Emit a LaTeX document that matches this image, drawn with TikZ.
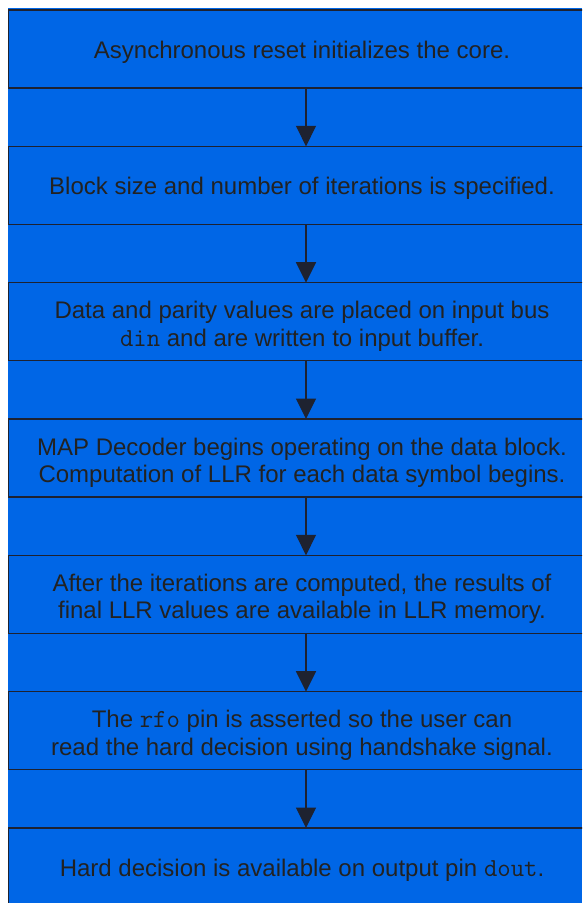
\documentclass[tikz,border=0pt]{standalone}
\usepackage{fontspec}
\setmainfont{Liberation Sans}
\usetikzlibrary{arrows.meta}
\definecolor{bg}{HTML}{0066E6}
\definecolor{ln}{HTML}{1E2230}
\definecolor{tx}{HTML}{222222}
\newcommand{\monotext}[1]{{\fontsize{26pt}{27.5pt}\ttfamily #1}}
\begin{document}
\begin{tikzpicture}[x=1pt,y=-1pt,
  stepbox/.style={draw=ln, line width=1.5pt, minimum width=592pt, minimum height=78pt, anchor=north west, outer sep=0pt, inner sep=0pt},
  txt/.style={text=tx, font=\fontsize{24pt}{27.5pt}\selectfont, align=center, anchor=base, inner sep=0pt},
  arr/.style={draw=ln, line width=1.3pt, -{Triangle[width=20pt,length=20.5pt]}}]
\useasboundingbox (0,0) rectangle (582,903);
\clip (0,0) rectangle (582,903);
\fill[white] (0,0) rectangle (582,903);
\fill[bg] (8,8) rectangle (582,903);
\node[stepbox] (b1) at (8.5,10) {};
\node[stepbox] (b2) at (8.5,146.33) {};
\node[stepbox] (b3) at (8.5,282.67) {};
\node[stepbox] (b4) at (8.5,419) {};
\node[stepbox] (b5) at (8.5,555.33) {};
\node[stepbox] (b6) at (8.5,691.67) {};
\node[stepbox] (b7) at (8.5,828) {};
\coordinate (ax) at (306,0);
\draw[arr] (b1.south -| ax) -- (b2.north -| ax);
\draw[arr] (b2.south -| ax) -- (b3.north -| ax);
\draw[arr] (b3.south -| ax) -- (b4.north -| ax);
\draw[arr] (b4.south -| ax) -- (b5.north -| ax);
\draw[arr] (b5.south -| ax) -- (b6.north -| ax);
\draw[arr] (b6.south -| ax) -- (b7.north -| ax);
\node[txt] (t1) at (302,58) {Asynchronous reset initializes the core.};
\node[txt] (t2) at (302,194.3) {Block size and number of iterations is specified.};
\node[txt] (t3) at (302,346.2) {Data and parity values are placed on input bus\\\monotext{din} and are written to input buffer.};
\node[txt] (t4) at (302,482.5) {MAP Decoder begins operating on the data block.\\Computation of LLR for each data symbol begins.};
\node[txt] (t5) at (302,618.8) {After the iterations are computed, the results of\\final LLR values are available in LLR memory.};
\node[txt] (t6) at (302,755.2) {The \monotext{rfo} pin is asserted so the user can\\read the hard decision using handshake signal.};
\node[txt] (t7) at (302,876) {Hard decision is available on output pin \monotext{dout}.};
\end{tikzpicture}
\end{document}
